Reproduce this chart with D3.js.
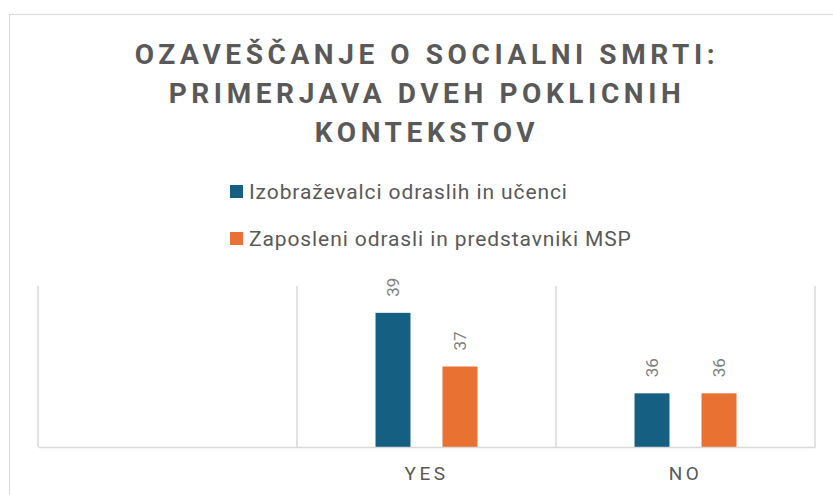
<!DOCTYPE html>
<html>
<head>
<meta charset="utf-8">
<script src="https://cdn.jsdelivr.net/npm/d3@7"></script>
<style>
  body { margin: 0; background: #fff; }
  text { font-family: Roboto, "Noto Sans", sans-serif; }
</style>
</head>
<body>
<div id="chart"></div>
<script>
const categories = ['', 'YES', 'NO'];
const seriesNames = ['Izobraževalci odraslih in učenci', 'Zaposleni odrasli in predstavniki MSP'];
const educators = [null, 39, 36];
const employees = [null, 37, 36];
const titleLines = ['OZAVEŠČANJE O SOCIALNI SMRTI:', 'PRIMERJAVA DVEH POKLICNIH', 'KONTEKSTOV'];
const colors = ['#156082', '#E97132'];

const w = 833;
const h = 495;
const plot = { left: 38, right: 815, top: 286, bottom: 447 };

const svg = d3.select('#chart')
    .append('svg')
    .attr('width', w)
    .attr('height', h);

// chart frame
svg.append('rect')
    .attr('x', 9.5).attr('y', 14.5)
    .attr('width', w).attr('height', h)
    .attr('fill', '#fff')
    .attr('stroke', '#d9d9d9');

// title
svg.append('g')
    .selectAll('text')
    .data(titleLines)
    .enter()
    .append('text')
    .attr('x', 427)
    .attr('y', (d, i) => 64 + i * 39)
    .attr('text-anchor', 'middle')
    .attr('font-size', 28)
    .attr('font-weight', 700)
    .attr('letter-spacing', 4.6)
    .attr('fill', '#595959')
    .text(d => d);

// legend
const legend = svg.append('g')
    .selectAll('g')
    .data(seriesNames)
    .enter()
    .append('g')
    .attr('transform', (d, i) => 'translate(230,' + (185 + i * 47) + ')');

legend.append('rect')
    .attr('width', 13).attr('height', 13)
    .attr('fill', (d, i) => colors[i]);

legend.append('text')
    .attr('x', 19)
    .attr('y', 14)
    .attr('font-size', 21)
    .attr('letter-spacing', 0.9)
    .attr('fill', '#595959')
    .text(d => d);

// scales
const xScale = d3.scaleBand()
    .domain(categories)
    .range([plot.left, plot.right]);

const inner = d3.scaleBand()
    .domain(seriesNames)
    .range([0, xScale.bandwidth()])
    .paddingInner(0.478)
    .paddingOuter(1.172);

const yScale = d3.scaleLinear()
    .domain([34, 40])
    .range([plot.bottom, plot.top]);

// vertical gridlines at category boundaries
const bounds = categories.map(c => xScale(c)).concat([plot.right]);
svg.append('g')
    .selectAll('line')
    .data(bounds)
    .enter()
    .append('line')
    .attr('x1', d => d).attr('x2', d => d)
    .attr('y1', plot.top).attr('y2', plot.bottom)
    .attr('stroke', '#d9d9d9')
    .attr('stroke-width', 1.5);

// bars
const rows = [];
categories.forEach((c, i) => {
    [educators, employees].forEach((s, j) => {
        if (s[i] != null) rows.push({ cat: c, series: seriesNames[j], value: s[i], color: colors[j] });
    });
});

svg.append('g')
    .selectAll('rect')
    .data(rows)
    .enter()
    .append('rect')
    .attr('x', d => xScale(d.cat) + inner(d.series))
    .attr('y', d => yScale(d.value))
    .attr('width', inner.bandwidth())
    .attr('height', d => plot.bottom - yScale(d.value))
    .attr('fill', d => d.color);

// data labels
svg.append('g')
    .selectAll('text')
    .data(rows)
    .enter()
    .append('text')
    .attr('transform', d => 'translate(' + (xScale(d.cat) + inner(d.series) + inner.bandwidth() / 2) + ',' + (yScale(d.value) - 16) + ') rotate(-90)')
    .attr('dy', '0.35em')
    .attr('font-size', 17)
    .attr('fill', '#7f7f7f')
    .text(d => d.value);

// category axis
const xAxis = d3.axisBottom(xScale).tickSize(0).tickPadding(20);
const ax = svg.append('g')
    .attr('transform', 'translate(0,' + plot.bottom + ')')
    .call(xAxis);
ax.select('.domain').attr('stroke', '#d9d9d9').attr('stroke-width', 1.5);
ax.selectAll('text')
    .attr('font-size', 19)
    .attr('letter-spacing', 3.5)
    .attr('fill', '#595959')
    .attr('font-family', 'Roboto, sans-serif');
</script>
</body>
</html>
